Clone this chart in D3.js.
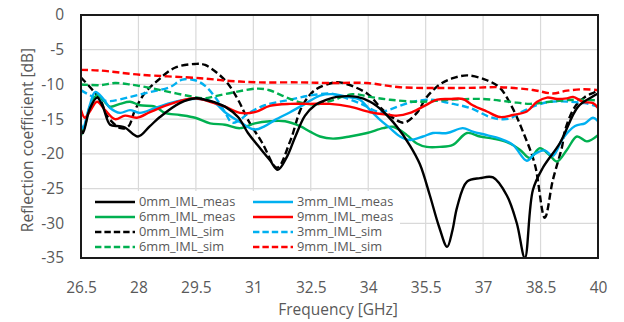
<!DOCTYPE html>
<html>
<head>
<meta charset="utf-8">
<script src="https://cdn.jsdelivr.net/npm/d3@7"></script>
<style>
  html, body { margin: 0; padding: 0; background: #fff; }
  svg { display: block; }
  text { font-family: "Open Sans", "Noto Sans", sans-serif; fill: #595959; }
</style>
</head>
<body>
<svg id="chart" width="624" height="322"></svg>
<script>
// Reflection coefficient vs frequency, measured and simulated, 4 IML thicknesses

// tick labels
const xTicks = [26.5, 28, 29.5, 31, 32.5, 34, 35.5, 37, 38.5, 40];
const yTicks = [0, -5, -10, -15, -20, -25, -30, -35];

// [GHz, dB]
const meas0 = [[26.5,-16.5],[26.55,-17.0],[26.73,-13.5],[26.92,-11.9],[27.07,-13.2],[27.26,-15.8],[27.5,-16.0],[27.65,-16.2],[27.99,-17.5],[28.3,-16.0],[28.56,-14.7],[29.08,-12.7],[29.5,-12.0],[29.74,-12.2],[30.0,-12.6],[30.26,-13.2],[30.6,-14.7],[30.86,-17.0],[31.12,-18.8],[31.43,-20.9],[31.64,-22.3],[31.88,-20.4],[32.09,-17.6],[32.35,-14.5],[32.61,-13.0],[32.92,-12.2],[33.18,-11.8],[33.71,-11.8],[34.05,-12.5],[34.39,-13.9],[34.75,-16.1],[35.09,-18.8],[35.35,-21.5],[35.61,-26.0],[35.85,-30.5],[36.06,-33.4],[36.2,-31.0],[36.32,-27.7],[36.58,-24.0],[36.92,-23.5],[37.26,-23.4],[37.62,-26.0],[37.88,-30.0],[38.09,-35.0],[38.3,-25.2],[38.56,-22.0],[39.01,-18.4],[39.48,-13.2],[39.84,-11.8],[40.0,-11.3]];
const meas3 = [[26.5,-15.8],[26.55,-16.3],[26.73,-13.0],[26.87,-11.1],[27.07,-12.0],[27.26,-13.4],[27.52,-14.1],[27.78,-13.7],[28.04,-14.1],[28.43,-13.4],[28.82,-12.7],[29.22,-12.2],[29.61,-12.1],[30.0,-12.7],[30.26,-14.0],[30.65,-15.4],[31.04,-16.5],[31.3,-16.0],[31.57,-15.1],[31.96,-14.0],[32.35,-12.8],[32.74,-11.6],[33.08,-11.4],[33.45,-11.8],[33.78,-12.2],[34.05,-13.7],[34.31,-15.1],[34.57,-16.3],[34.83,-17.5],[35.09,-18.0],[35.43,-17.5],[35.69,-17.0],[36.06,-17.0],[36.47,-16.3],[36.73,-16.8],[37.1,-17.3],[37.44,-17.8],[37.78,-18.7],[38.14,-21.0],[38.35,-20.0],[38.61,-19.5],[38.82,-20.3],[39.08,-17.8],[39.4,-16.0],[39.66,-15.6],[39.87,-14.8],[40.0,-15.3]];
const meas6 = [[26.5,-17.3],[26.6,-16.0],[26.73,-13.2],[26.92,-11.5],[27.07,-12.2],[27.26,-13.2],[27.52,-12.8],[27.78,-12.5],[28.04,-13.0],[28.43,-13.2],[28.69,-14.1],[29.08,-14.4],[29.48,-14.8],[29.87,-15.6],[30.26,-15.8],[30.65,-16.3],[31.04,-15.6],[31.43,-15.3],[31.83,-15.3],[32.22,-16.0],[32.48,-16.8],[32.74,-17.5],[33.08,-17.8],[33.52,-17.5],[33.97,-17.0],[34.39,-16.3],[34.65,-16.1],[35.01,-17.3],[35.27,-18.5],[35.53,-19.0],[35.87,-19.0],[36.21,-18.7],[36.58,-17.0],[36.92,-17.5],[37.26,-17.8],[37.62,-18.3],[37.96,-19.4],[38.22,-20.6],[38.48,-19.2],[38.74,-20.2],[38.93,-21.1],[39.19,-19.4],[39.45,-17.5],[39.71,-18.2],[40.0,-17.3]];
const meas9 = [[26.5,-13.7],[26.6,-14.8],[26.73,-13.9],[26.92,-12.5],[27.13,-13.7],[27.39,-15.0],[27.65,-14.5],[27.96,-14.8],[28.3,-14.0],[28.69,-13.1],[29.08,-12.4],[29.48,-12.0],[29.87,-12.5],[30.26,-13.2],[30.65,-14.1],[31.04,-14.0],[31.43,-13.1],[31.96,-12.8],[32.48,-12.8],[33.0,-12.8],[33.52,-13.2],[34.05,-14.0],[34.57,-14.4],[34.75,-14.5],[35.09,-14.1],[35.43,-13.2],[35.8,-12.2],[36.13,-12.1],[36.47,-12.1],[36.73,-13.0],[37.1,-13.9],[37.44,-14.7],[37.78,-14.4],[38.14,-13.9],[38.41,-12.5],[38.67,-11.9],[38.93,-12.1],[39.19,-12.0],[39.35,-11.8],[39.61,-12.5],[39.87,-12.7],[40.0,-13.4]];
const sim0 = [[26.5,-9.0],[27.0,-12.2],[27.2,-14.7],[27.54,-16.3],[27.73,-16.1],[27.91,-13.7],[28.17,-11.2],[28.51,-9.4],[28.95,-7.6],[29.48,-7.05],[29.74,-7.2],[30.26,-9.4],[30.6,-12.2],[30.86,-15.1],[31.23,-18.4],[31.62,-22.0],[31.96,-18.2],[32.27,-13.2],[32.61,-10.8],[33.05,-9.8],[33.26,-9.7],[33.97,-11.3],[34.39,-13.7],[34.83,-15.4],[34.96,-15.5],[35.27,-14.1],[35.53,-11.8],[35.87,-10.0],[36.21,-9.1],[36.6,-8.7],[37.1,-9.4],[37.44,-10.5],[37.75,-13.2],[38.04,-16.8],[38.35,-21.5],[38.61,-29.2],[38.82,-23.8],[39.06,-19.0],[39.14,-16.6],[39.4,-13.2],[39.66,-11.8],[39.92,-11.1],[40.0,-10.8]];
const sim3 = [[26.5,-10.8],[26.55,-11.0],[27.0,-12.2],[27.26,-12.4],[27.78,-11.8],[28.3,-11.1],[28.82,-10.4],[29.15,-9.3],[29.48,-9.4],[29.74,-10.2],[30.0,-11.8],[30.26,-14.0],[30.44,-15.5],[30.6,-15.3],[30.86,-14.2],[31.3,-13.0],[31.96,-12.2],[32.48,-11.6],[33.0,-11.3],[33.26,-11.7],[33.78,-12.7],[34.3,-14.0],[34.57,-13.6],[35.09,-12.6],[35.61,-12.2],[36.13,-12.7],[36.66,-13.4],[37.18,-14.7],[37.44,-15.0],[37.7,-14.9],[37.96,-14.1],[38.35,-13.1],[38.74,-12.5],[39.27,-12.5],[39.66,-12.7],[40.0,-13.2]];
const sim6 = [[26.5,-10.0],[27.0,-10.1],[27.39,-9.8],[27.78,-10.0],[28.3,-10.5],[28.82,-11.1],[29.35,-11.7],[29.74,-12.0],[30.0,-11.7],[30.52,-11.1],[31.1,-10.6],[31.4,-10.8],[31.75,-11.6],[32.17,-12.5],[32.61,-12.9],[33.0,-12.4],[33.6,-11.4],[34.05,-11.8],[34.57,-12.2],[35.35,-12.5],[36.13,-12.2],[37.0,-12.1],[37.7,-12.5],[38.22,-12.8],[38.74,-12.5],[39.4,-12.2],[40.0,-12.3]];
const sim9 = [[26.5,-7.9],[27.0,-8.0],[28.04,-8.6],[29.61,-9.1],[30.39,-9.5],[31.17,-9.7],[32.22,-9.7],[33.0,-9.8],[33.97,-9.8],[34.83,-10.4],[36.58,-10.5],[37.44,-10.4],[38.3,-10.8],[38.82,-11.3],[39.19,-10.9],[39.61,-10.7],[40.0,-10.8]];

// legend order: two columns, row by row
const seriesNames = ["0mm_IML_meas", "3mm_IML_meas", "6mm_IML_meas", "9mm_IML_meas",
                     "0mm_IML_sim", "3mm_IML_sim", "6mm_IML_sim", "9mm_IML_sim"];
const seriesValues = [meas0, meas3, meas6, meas9, sim0, sim3, sim6, sim9];

const colors = { "0mm": "#000000", "3mm": "#00b0f0", "6mm": "#00b050", "9mm": "#ff0000" };
const DASH = "7,3.5";

const svg = d3.select("#chart");
const margin = { top: 15, right: 26, bottom: 64, left: 81 };
const width = 624, height = 322;
const innerWidth = width - margin.left - margin.right;
const innerHeight = height - margin.top - margin.bottom;

const x = d3.scaleLinear().domain([26.5, 40]).range([0, innerWidth]);
const y = d3.scaleLinear().domain([-35, 0]).range([innerHeight, 0]);

const g = svg.append("g").attr("transform", `translate(${margin.left},${margin.top})`);

// grid
g.append("g")
  .selectAll("line.vg")
  .data(xTicks)
  .join("line")
  .attr("x1", (d) => x(d)).attr("x2", (d) => x(d))
  .attr("y1", 0).attr("y2", innerHeight)
  .attr("stroke", "#d9d9d9").attr("stroke-width", 1.2);

g.append("g")
  .selectAll("line.hg")
  .data(yTicks)
  .join("line")
  .attr("x1", 0).attr("x2", innerWidth)
  .attr("y1", (d) => y(d)).attr("y2", (d) => y(d))
  .attr("stroke", "#d9d9d9").attr("stroke-width", 1.2);

// axes (labels only, the frame is drawn separately)
const xAxisG = g.append("g")
  .attr("transform", `translate(0,${innerHeight})`)
  .call(d3.axisBottom(x).tickValues(xTicks).tickSize(0).tickPadding(24).tickFormat(d3.format("~g")));
const yAxisG = g.append("g")
  .call(d3.axisLeft(y).tickValues(yTicks).tickSize(0).tickPadding(17).tickFormat((d) => d === 0 ? "0" : d3.format("~g")(d).replace("−", "-")));

[xAxisG, yAxisG].forEach((a) => {
  a.select(".domain").remove();
  a.selectAll("text").attr("font-size", 15.5).attr("fill", "#595959")
    .attr("font-family", '"Open Sans", sans-serif');
});

// curves
svg.append("defs").append("clipPath").attr("id", "plot-clip")
  .append("rect").attr("x", 0).attr("y", -2).attr("width", innerWidth).attr("height", innerHeight + 2);

const line = d3.line()
  .x((d) => x(d[0]))
  .y((d) => y(d[1]))
  .curve(d3.curveCatmullRom.alpha(0.5));

// draw sims first, then measurements, roughly like the reference stacking
const drawOrder = [4, 5, 6, 7, 2, 1, 3, 0];
const curves = g.append("g").attr("clip-path", "url(#plot-clip)");
drawOrder.forEach((i) => {
  const name = seriesNames[i];
  curves.append("path")
    .datum(seriesValues[i])
    .attr("fill", "none")
    .attr("stroke", colors[name.slice(0, 3)])
    .attr("stroke-width", 2.4)
    .attr("stroke-dasharray", name.endsWith("sim") ? DASH : null)
    .attr("stroke-linejoin", "round")
    .attr("d", line);
});

// legend, white box over the lower left of the plot
const legend = g.append("g");
legend.append("rect")
  .attr("x", 1).attr("y", 176)
  .attr("width", 318).attr("height", innerHeight - 177)
  .attr("fill", "#fff");

seriesNames.forEach((name, i) => {
  const col = i % 2, row = Math.floor(i / 2);
  const lx = 14 + col * 158;
  const ly = 187 + row * 15;
  legend.append("line")
    .attr("x1", lx).attr("x2", lx + 40)
    .attr("y1", ly).attr("y2", ly)
    .attr("stroke", colors[name.slice(0, 3)])
    .attr("stroke-width", 2.4)
    .attr("stroke-dasharray", name.endsWith("sim") ? "6.4,3" : null);
  legend.append("text")
    .attr("x", lx + 44).attr("y", ly)
    .attr("dy", "0.35em")
    .attr("font-size", 12.8)
    .text(name);
});

// frame
g.append("rect")
  .attr("x", 0).attr("y", 0)
  .attr("width", innerWidth).attr("height", innerHeight)
  .attr("fill", "none")
  .attr("stroke", "#1a1a1a").attr("stroke-width", 2);

// axis titles
svg.append("text")
  .attr("x", 338)
  .attr("y", 315)
  .attr("text-anchor", "middle")
  .attr("font-size", 15.5)
  .text("Frequency [GHz]");

svg.append("text")
  .attr("transform", "translate(33,140) rotate(-90)")
  .attr("text-anchor", "middle")
  .attr("font-size", 15.5)
  .text("Reflection coefficient [dB]");
</script>
</body>
</html>
